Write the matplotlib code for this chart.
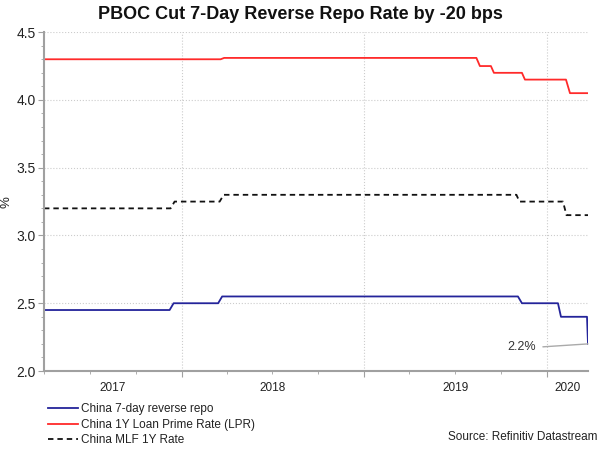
import matplotlib
matplotlib.use("Agg")
import matplotlib.pyplot as plt
import matplotlib.dates as mdates
import pandas as pd

plt.rcParams['font.family'] = ['Liberation Sans', 'DejaVu Sans']

# 7-day reverse repo (change points)
repo_dates = ['2017-04-01', '2017-12-08', '2017-12-16', '2018-03-15', '2018-03-23',
              '2019-11-04', '2019-11-12', '2020-01-23', '2020-01-29', '2020-03-21', '2020-03-23']
repo_vals = [2.45, 2.45, 2.50, 2.50, 2.55, 2.55, 2.50, 2.50, 2.40, 2.40, 2.20]

# 1Y LPR
lpr_dates = ['2017-04-01', '2018-03-20', '2018-03-27', '2019-08-13', '2019-08-20', '2019-09-11',
             '2019-09-17', '2019-11-12', '2019-11-18', '2020-02-08', '2020-02-16', '2020-03-23']
lpr_vals = [4.30, 4.30, 4.31, 4.31, 4.25, 4.25, 4.20, 4.20, 4.15, 4.15, 4.05, 4.05]

# MLF 1Y
mlf_dates = ['2017-04-01', '2017-12-10', '2017-12-18', '2018-03-18', '2018-03-26',
             '2019-11-01', '2019-11-07', '2020-02-02', '2020-02-09', '2020-03-23']
mlf_vals = [3.20, 3.20, 3.25, 3.25, 3.30, 3.30, 3.25, 3.25, 3.15, 3.15]

year_labels = ['2017', '2018', '2019', '2020']

start = pd.Timestamp('2017-04-01')
end = pd.Timestamp('2020-03-23')

fig = plt.figure(figsize=(6, 4.53), dpi=100)
ax = fig.add_axes([0.0733, 0.181, 0.9067, 0.748])

ax.plot(pd.to_datetime(repo_dates), repo_vals, color='#24249a', lw=1.3,
        label='China 7-day reverse repo')
ax.plot(pd.to_datetime(lpr_dates), lpr_vals, color='#ff2a2a', lw=1.3,
        label='China 1Y Loan Prime Rate (LPR)')
ax.plot(pd.to_datetime(mlf_dates), mlf_vals, color='#111111', lw=1.3,
        dashes=(3, 2.2), label='China MLF 1Y Rate')

ax.set_xlim(start, end)
ax.set_ylim(2.0, 4.5)

ax.set_yticks([2.0, 2.5, 3.0, 3.5, 4.0, 4.5])
ax.set_yticklabels(['2.0', '2.5', '3.0', '3.5', '4.0', '4.5'])
ax.set_yticks([2.0 + 0.1 * i for i in range(26)], minor=True)
ax.set_ylabel('%', fontsize=9.5, color='#222222')
ax.yaxis.set_label_coords(-0.057, 0.5)

year_starts = [pd.Timestamp(y + '-01-01') for y in year_labels[1:]]
ax.set_xticks(year_starts)
ax.set_xticklabels([])
ax.xaxis.set_minor_locator(mdates.MonthLocator(bymonth=[1, 4, 7, 10]))

ax.tick_params(axis='y', which='major', length=4, color='#a0a0a0', labelsize=10,
               labelcolor='#222222', pad=2)
ax.tick_params(axis='y', which='minor', length=2, color='#a0a0a0')
ax.tick_params(axis='x', which='major', length=4, color='#a0a0a0')
ax.tick_params(axis='x', which='minor', length=2, color='#a0a0a0')

# year labels centred within the visible span of each year
bounds = [start] + year_starts + [end]
trans = ax.get_xaxis_transform()
for i, lab in enumerate(year_labels):
    mid = bounds[i] + (bounds[i + 1] - bounds[i]) / 2
    ax.text(mid, -0.05, lab, transform=trans, ha='center', va='center',
            fontsize=8.5, color='#222222')

ax.grid(axis='y', which='major', color='#cccccc', linestyle=':', lw=0.8)
ax.grid(axis='x', which='major', color='#cccccc', linestyle=':', lw=0.8)

for s in ['top', 'right']:
    ax.spines[s].set_visible(False)
ax.spines['left'].set_color('#a0a0a0')
ax.spines['bottom'].set_color('#a0a0a0')
ax.spines['left'].set_linewidth(1.5)
ax.spines['bottom'].set_linewidth(1.5)

ax.annotate('2.2%', xy=(pd.Timestamp(repo_dates[-1]), repo_vals[-1]),
            xytext=(pd.Timestamp('2019-12-10'), 2.175), ha='right', va='center',
            fontsize=9, color='#333333',
            arrowprops=dict(arrowstyle='-', color='#aaaaaa', lw=1.0,
                            shrinkA=3, shrinkB=0, relpos=(1, 0.5)))

fig.text(0.5, 0.968, 'PBOC Cut 7-Day Reverse Repo Rate by -20 bps', ha='center',
         va='center', fontsize=13, fontweight='bold', color='#111111')

leg = ax.legend(loc='upper left', bbox_to_anchor=(0.008, -0.095), frameon=False,
                fontsize=8.5, handlelength=2.5, handletextpad=0.3, labelspacing=0.3,
                borderaxespad=0, borderpad=0)
for t in leg.get_texts():
    t.set_color('#222222')

fig.text(0.995, 0.035, 'Source: Refinitiv Datastream', ha='right', va='center',
         fontsize=8.5, color='#222222')

fig.savefig('out.png', dpi=100)
